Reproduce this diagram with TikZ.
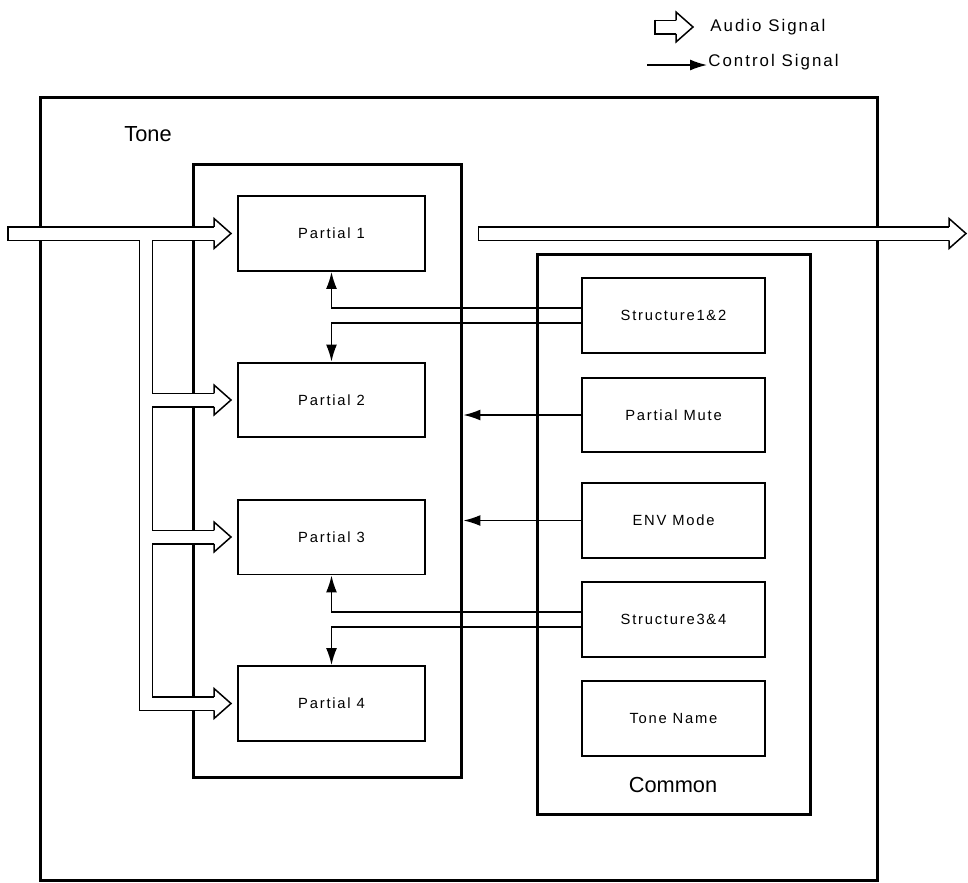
\documentclass[tikz,border=0pt]{standalone}
\usepackage{fontspec}
\setsansfont{Liberation Sans}
\newfontfamily\spacedfont[LetterSpace=12]{Liberation Sans}
\usetikzlibrary{arrows.meta, positioning, calc}

% hollow head of an audio arrow, tip at #1
\newcommand{\audiotip}[1]{%
  \filldraw[audiohead] #1 ++(-0.34cm,0.135cm) -- ++(0,0.165cm)
    -- ++(0.34cm,-0.3cm) -- ++(-0.34cm,-0.3cm) -- ++(0,0.165cm);}
% closed tail of an audio arrow at #1
\newcommand{\audiotail}[1]{%
  \draw[line width=0.03cm] #1 ++(0,0.15cm) -- ++(0,-0.3cm);}

\begin{document}
\begin{tikzpicture}[x=0.02cm, y=-0.02cm, >=Latex, font=\sffamily,
    frame/.style={draw, line width=0.06cm, inner sep=0pt},
    unit/.style={draw, line width=0.04cm, fill=white, minimum height=1.5cm,
      inner sep=0pt, font=\spacedfont\fontsize{8.4}{10}\selectfont},
    partial/.style={unit, minimum width=3.74cm},
    setting/.style={unit, minimum width=3.66cm},
    title/.style={font=\sffamily\fontsize{12.4}{14}\selectfont},
    legend/.style={anchor=west, inner sep=0pt,
      font=\spacedfont\fontsize{9.6}{11}\selectfont},
    ctrl/.style={-{Latex[length=0.34cm,width=0.22cm]}, line width=0.03cm},
    audio/.style={double, double distance=0.24cm, line width=0.03cm},
    audiohead/.style={fill=white, line width=0.03cm, line join=miter}]
    \useasboundingbox (0,0) rectangle (968,883);

    % Legend
    \node[legend] (audiolbl) at (710,27) {Audio Signal};
    \node[legend] (ctrllbl) at (708,62) {Control Signal};
    \draw[audio] ([xshift=-1.1cm]audiolbl.west) -- ([xshift=-0.68cm]audiolbl.west);
    \audiotip{([xshift=-0.34cm]audiolbl.west)}
    \audiotail{([xshift=-1.1cm]audiolbl.west)}
    \draw[ctrl] ([xshift=-1.22cm,yshift=-0.06cm]ctrllbl.west)
        -- ([xshift=-0.02cm,yshift=-0.06cm]ctrllbl.west);

    % Frames
    \node[frame, minimum width=16.76cm, minimum height=15.68cm] (tone) at (459,489) {};
    \node[title] (tonelbl) at (148,134) {Tone};
    \node[frame, minimum width=5.38cm, minimum height=12.28cm] (part) at (327.5,471) {};
    \node[frame, minimum width=5.48cm, minimum height=11.22cm] (common) at (674,534.5) {};
    \node[title] (commonlbl) at (673,785) {Common};

    % Partials
    \node[partial] (p1) at (331.5,233.5) {Partial 1};
    \node[partial] (p2) at (331.5,400) {Partial 2};
    \node[partial] (p3) at (331.5,537) {Partial 3};
    \node[partial] (p4) at (331.5,703.5) {Partial 4};

    % Common settings
    \node[setting] (s12) at (673.5,315.5) {Structure1\&2};
    \node[setting] (pm) at (673.5,415) {Partial Mute};
    \node[setting] (env) at (673.5,520.5) {ENV Mode};
    \node[setting] (s34) at (673.5,619.5) {Structure3\&4};
    \node[setting] (tn) at (673.5,718) {Tone Name};

    % Control signals
    \draw[ctrl] ([yshift=0.15cm]s12.west) -| (p1.south);
    \draw[ctrl] ([yshift=-0.15cm]s12.west) -| (p2.north);
    \draw[ctrl] (pm.west) -- (pm.west -| part.east);
    \draw[ctrl] (env.west) -- (env.west -| part.east);
    \draw[ctrl] ([yshift=0.15cm]s34.west) -| (p3.south);
    \draw[ctrl] ([yshift=-0.15cm]s34.west) -| (p4.north);

    % Audio in
    \coordinate (in) at (8,233.5);
    \coordinate (bus) at (146,233.5);
    \draw[audio] (in) -- ([xshift=-0.46cm]p1.west)
        (bus) |- ([xshift=-0.46cm]p4.west)
        (bus |- p2.west) -- ([xshift=-0.46cm]p2.west)
        (bus |- p3.west) -- ([xshift=-0.46cm]p3.west);
    \audiotail{(in)}
    \audiotip{([xshift=-0.12cm]p1.west)}
    \audiotip{([xshift=-0.12cm]p2.west)}
    \audiotip{([xshift=-0.12cm]p3.west)}
    \audiotip{([xshift=-0.12cm]p4.west)}

    % Audio out
    \path (part.east |- p1.east) ++(0.3cm,0) coordinate (mixout);
    \coordinate (outtip) at (966,233.5);
    \draw[audio] (mixout) -- ([xshift=-0.34cm]outtip);
    \audiotail{(mixout)}
    \audiotip{(outtip)}
\end{tikzpicture}
\end{document}
